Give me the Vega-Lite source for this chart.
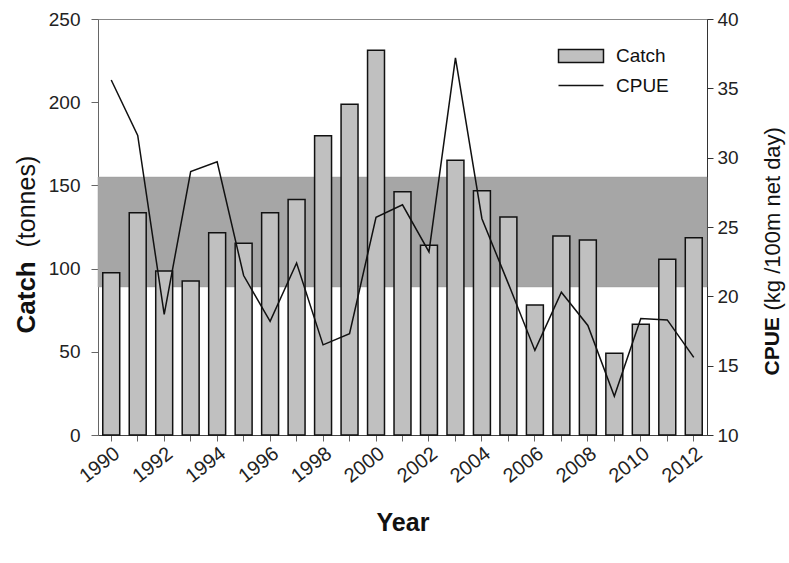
{
  "$schema": "https://vega.github.io/schema/vega-lite/v6.json",
  "width": 609,
  "height": 416,
  "autosize": {"type": "none"},
  "padding": {"left": 98, "top": 19, "right": 82, "bottom": 128},
  "background": "white",
  "config": {
    "font": "Liberation Sans",
    "view": {"stroke": "#888", "strokeWidth": 1},
    "axis": {"labelFont": "Liberation Sans", "labelFontSize": 19, "labelColor": "#222", "domainColor": "#666", "tickColor": "#666", "grid": false, "titleFont": "Liberation Sans", "titleColor": "#111"},
    "legend": {"labelFont": "Liberation Sans"}
  },
  "data": {
    "values": [
      {"year": 1990, "catch": 97.5, "cpue": 35.6},
      {"year": 1991, "catch": 133.6, "cpue": 31.6},
      {"year": 1992, "catch": 98.6, "cpue": 18.7},
      {"year": 1993, "catch": 92.5, "cpue": 29.0},
      {"year": 1994, "catch": 121.6, "cpue": 29.7},
      {"year": 1995, "catch": 115.2, "cpue": 21.5},
      {"year": 1996, "catch": 133.6, "cpue": 18.2},
      {"year": 1997, "catch": 141.6, "cpue": 22.4},
      {"year": 1998, "catch": 179.9, "cpue": 16.5},
      {"year": 1999, "catch": 198.7, "cpue": 17.3},
      {"year": 2000, "catch": 231.2, "cpue": 25.7},
      {"year": 2001, "catch": 146.2, "cpue": 26.6},
      {"year": 2002, "catch": 114.0, "cpue": 23.2},
      {"year": 2003, "catch": 165.1, "cpue": 37.2},
      {"year": 2004, "catch": 146.8, "cpue": 25.6},
      {"year": 2005, "catch": 131.0, "cpue": 20.9},
      {"year": 2006, "catch": 78.1, "cpue": 16.1},
      {"year": 2007, "catch": 119.6, "cpue": 20.3},
      {"year": 2008, "catch": 117.2, "cpue": 17.9},
      {"year": 2009, "catch": 49.1, "cpue": 12.8},
      {"year": 2010, "catch": 66.5, "cpue": 18.4},
      {"year": 2011, "catch": 105.6, "cpue": 18.3},
      {"year": 2012, "catch": 118.6, "cpue": 15.6}
    ]
  },
  "encoding": {
    "x": {
      "field": "year", "type": "ordinal",
      "scale": {"paddingInner": 0.36, "paddingOuter": 0.18},
      "axis": {
        "title": "Year", "titleFontSize": 25, "titleFontWeight": "bold",
        "titleY": 95, "titleBaseline": "alphabetic",
        "labelAngle": -38, "labelAlign": "right", "labelBaseline": "top", "labelFontSize": 20,
        "labelExpr": "datum.value % 2 == 0 ? datum.label : ''",
        "tickSize": 6, "labelPadding": 2, "domainColor": "#444"
      }
    }
  },
  "layer": [
    {
      "data": {"values": [{"lo": 89, "hi": 155}]},
      "mark": {"type": "rect", "fill": "#a6a6a6", "stroke": "#999", "strokeWidth": 0.5},
      "encoding": {
        "x": null,
        "y": {"field": "lo", "type": "quantitative", "scale": {"domain": [0, 250]},
          "axis": {"orient": "left", "title": "(tonnes)", "titleFontSize": 25, "titleFontWeight": "normal", "labels": false, "ticks": false, "domain": false,
            "titleAngle": 270, "titleAlign": "left", "titleBaseline": "middle", "titleX": -72, "titleY": 228}},
        "y2": {"field": "hi"}
      }
    },
    {
      "mark": {"type": "bar", "fill": "#c0c0c0", "strokeWidth": 1.5},
      "encoding": {
        "y": {"field": "catch", "type": "quantitative", "scale": {"domain": [0, 250]},
          "axis": {"orient": "left", "values": [0, 50, 100, 150, 200, 250], "title": "Catch", "titleFontSize": 26, "titleFontWeight": "bold",
            "titleAngle": 270, "titleAlign": "left", "titleBaseline": "middle", "titleX": -72, "titleY": 314,
            "tickSize": 7, "labelPadding": 11}},
        "stroke": {
          "datum": "Catch",
          "scale": {"domain": ["Catch", "CPUE"], "range": ["#111", "#111"]},
          "legend": {
            "title": null, "orient": "none", "legendX": 471, "legendY": 25, "padding": 0,
            "symbolSize": 506, "labelFontSize": 19, "labelColor": "#111", "labelOffset": 23, "rowPadding": 7.5,
            "encode": {
              "symbols": {
                "update": {
                  "shape": {"signal": "datum.value === 'Catch' ? 'M-2,-0.58H2V0.58H-2Z' : 'M-2,0H2'"},
                  "fill": {"signal": "datum.value === 'Catch' ? '#c0c0c0' : 'transparent'"},
                  "stroke": {"value": "#111"},
                  "strokeWidth": {"value": 1.5},
                  "opacity": {"value": 1}
                }
              }
            }
          }
        }
      }
    },
    {
      "mark": {"type": "line", "strokeWidth": 1.5},
      "encoding": {
        "y": {"field": "cpue", "type": "quantitative", "scale": {"domain": [10, 40]},
          "axis": {"orient": "right", "values": [10, 15, 20, 25, 30, 35, 40], "title": "CPUE", "titleFontSize": 21, "titleFontWeight": "bold",
            "titleAngle": 270, "titleAlign": "left", "titleBaseline": "middle", "titleX": 65, "titleY": 356,
            "tickSize": 6, "labelPadding": 4, "domainColor": "#333", "tickColor": "#333"}},
        "stroke": {
          "datum": "CPUE",
          "legend": {
            "title": null, "orient": "none", "legendX": 471, "legendY": 25, "padding": 0,
            "symbolSize": 506, "labelFontSize": 19, "labelColor": "#111", "labelOffset": 23, "rowPadding": 7.5,
            "encode": {
              "symbols": {
                "update": {
                  "shape": {"signal": "datum.value === 'Catch' ? 'M-2,-0.58H2V0.58H-2Z' : 'M-2,0H2'"},
                  "fill": {"signal": "datum.value === 'Catch' ? '#c0c0c0' : 'transparent'"},
                  "stroke": {"value": "#111"},
                  "strokeWidth": {"value": 1.5},
                  "opacity": {"value": 1}
                }
              }
            }
          }
        }
      }
    },
    {
      "mark": {"type": "point", "opacity": 0},
      "encoding": {
        "y": {"field": "cpue", "type": "quantitative", "scale": {"domain": [10, 40]},
          "axis": {"orient": "right", "title": "(kg /100m net day)", "titleFontSize": 22, "titleFontWeight": "normal", "labels": false, "ticks": false, "domain": false,
            "titleAngle": 270, "titleAlign": "left", "titleBaseline": "middle", "titleX": 65, "titleY": 291}}
      }
    }
  ],
  "resolve": {"scale": {"y": "independent"}}
}
